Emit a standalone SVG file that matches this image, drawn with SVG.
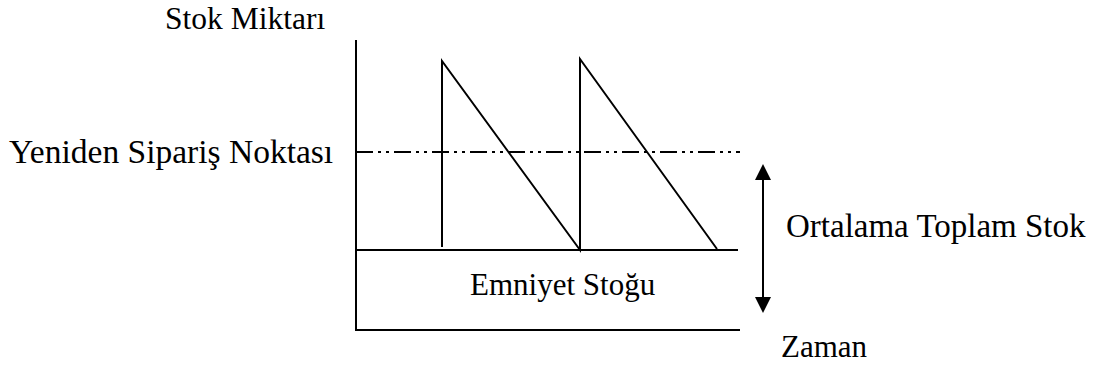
<svg xmlns="http://www.w3.org/2000/svg" width="1098" height="367" viewBox="0 0 1098 367">
<defs>
<style>
.ln{stroke:#000;stroke-width:2;fill:none}
.dd{stroke:#000;stroke-width:2;fill:none;stroke-dasharray:17 5 3 5 3 5}
.t{font-family:"Liberation Serif","Times New Roman",serif;fill:#000}
</style>
<marker id="ah" viewBox="0 0 16 16" refX="14" refY="8" markerWidth="16" markerHeight="16" markerUnits="userSpaceOnUse" orient="auto-start-reverse">
<path d="M0,0 L16,8 L0,16 Z" fill="#000"/>
</marker>
</defs>
<rect width="1098" height="367" fill="#fff"/>
<g id="axes">
<line class="ln" x1="356" y1="40" x2="356" y2="331"/>
<line class="ln" x1="355" y1="330" x2="740" y2="330"/>
</g>
<g id="safety-line">
<line class="ln" x1="356" y1="250" x2="738" y2="250"/>
</g>
<g id="reorder-line">
<line class="dd" x1="356" y1="152" x2="740" y2="152"/>
</g>
<g id="sawtooth">
<polyline class="ln" points="442,247 442,61 580,250 580,59 717,249"/>
</g>
<g id="connectors">
<line class="ln" x1="763" y1="166" x2="763" y2="311" marker-start="url(#ah)" marker-end="url(#ah)"/>
</g>
<g id="labels">
<text class="t" x="165" y="29" font-size="31.5">Stok Miktarı</text>
<text class="t" x="9" y="163" font-size="33.5">Yeniden Sipariş Noktası</text>
<text class="t" x="786" y="237" font-size="33">Ortalama Toplam Stok</text>
<text class="t" x="470" y="295" font-size="31">Emniyet Stoğu</text>
<text class="t" x="781" y="357" font-size="31">Zaman</text>
</g>
</svg>
